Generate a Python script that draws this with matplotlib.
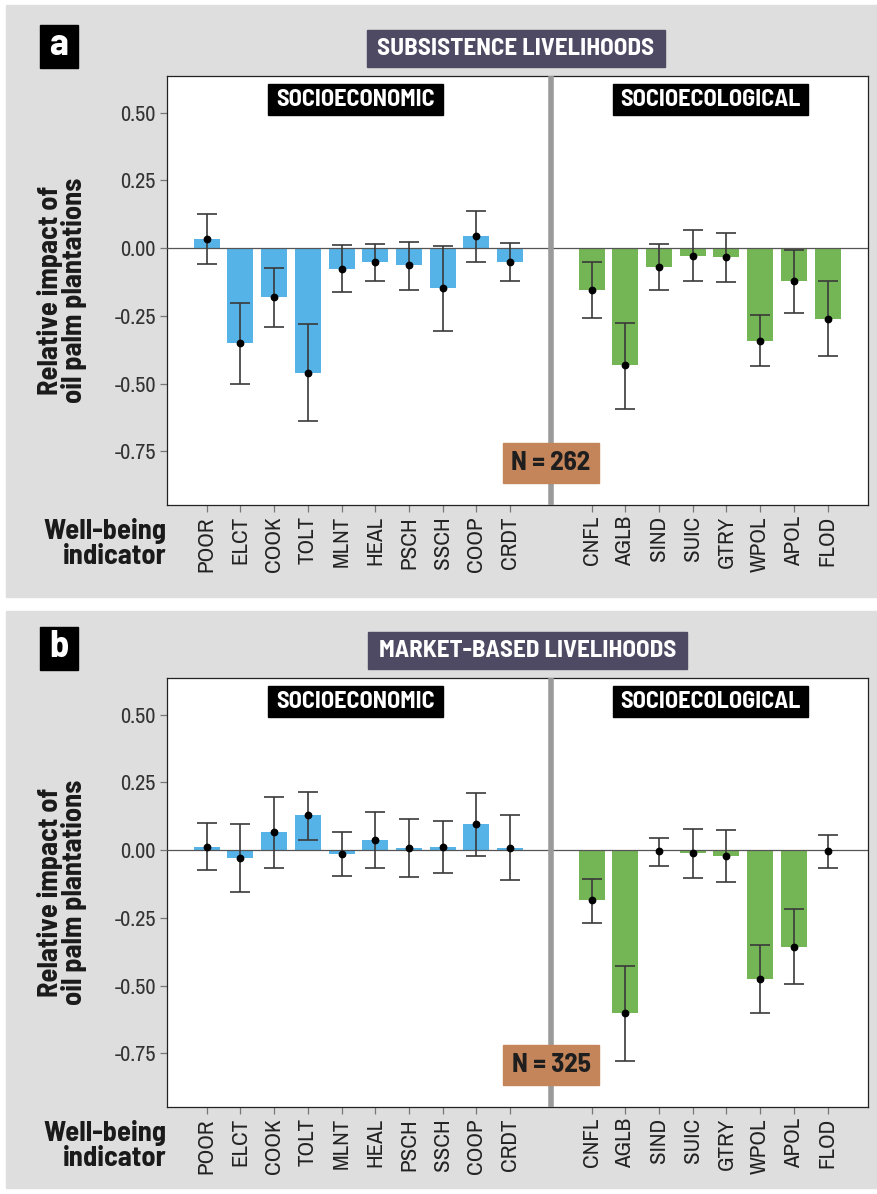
import matplotlib
matplotlib.use("Agg")
import matplotlib.pyplot as plt
from matplotlib.patches import Rectangle

plt.rcParams['axes.unicode_minus'] = False

# well-being indicators, split into the two groups
socioeconomic = ["POOR", "ELCT", "COOK", "TOLT", "MLNT", "HEAL", "PSCH", "SSCH", "COOP", "CRDT"]
socioecological = ["CNFL", "AGLB", "SIND", "SUIC", "GTRY", "WPOL", "APOL", "FLOD"]

# subsistence livelihoods: estimate, lower and upper bound
subs_mean = [0.034, -0.350, -0.182, -0.460, -0.077, -0.053, -0.064, -0.149, 0.045, -0.050,
             -0.154, -0.433, -0.069, -0.029, -0.034, -0.341, -0.123, -0.260]
subs_lo = [-0.059, -0.500, -0.293, -0.638, -0.163, -0.122, -0.154, -0.305, -0.050, -0.123,
           -0.258, -0.593, -0.154, -0.123, -0.124, -0.435, -0.241, -0.400]
subs_hi = [0.124, -0.203, -0.072, -0.279, 0.010, 0.015, 0.024, 0.009, 0.138, 0.019,
           -0.052, -0.275, 0.016, 0.068, 0.055, -0.247, -0.006, -0.123]

# market-based livelihoods
mkt_mean = [0.013, -0.029, 0.065, 0.131, -0.014, 0.037, 0.009, 0.013, 0.095, 0.009,
            -0.186, -0.602, -0.005, -0.012, -0.023, -0.477, -0.357, -0.005]
mkt_lo = [-0.074, -0.155, -0.065, 0.039, -0.095, -0.065, -0.098, -0.083, -0.020, -0.112,
          -0.270, -0.780, -0.057, -0.103, -0.119, -0.602, -0.494, -0.067]
mkt_hi = [0.101, 0.098, 0.197, 0.216, 0.065, 0.140, 0.116, 0.107, 0.211, 0.128,
          -0.106, -0.426, 0.044, 0.077, 0.073, -0.350, -0.216, 0.057]

y_ticks = [-0.75, -0.50, -0.25, 0.00, 0.25, 0.50]

W, H = 877, 1194
BLUE = "#55b3e8"
GREEN = "#74b556"
PANEL_BG = "#dedede"
HEADER_BG = "#4e4a63"
N_BG = "#c4855b"
BOLD_FONT = ["Barlow Semi Condensed", "DejaVu Sans"]
TICK_FONT = ["Archivo Narrow", "DejaVu Sans"]


def fx(x):
    return x / W


def fy(y):
    return 1 - y / H


def box(x0, y0, x1, y1, color, z=5):
    # rectangle given in pixel coordinates from the top left corner
    fig.patches.append(Rectangle((fx(x0), fy(y1)), (x1 - x0) / W, (y1 - y0) / H,
                                 transform=fig.transFigure, color=color, zorder=z))


def label(x, y, s, size, color="white", z=6, **kw):
    fig.text(fx(x), fy(y), s, ha="center", va="center", color=color, fontsize=size,
             fontweight="bold", family=BOLD_FONT, zorder=z, **kw)


x_econ = list(range(len(socioeconomic)))
x_ecol = [11.42 + i for i in range(len(socioecological))]
x_all = x_econ + x_ecol
sep_x = 10.2

fig = plt.figure(figsize=(W / 100, H / 100), dpi=100)

# grey panel backgrounds, kept behind the axes
box(6, 5, W, 597, PANEL_BG, z=-10)
box(6, 611, W, 1188, PANEL_BG, z=-10)


def draw_panel(ax_top, letter, title, title_box, n, mean, lo, hi):
    ax_bottom = ax_top + 429
    ax = fig.add_axes([fx(167), fy(ax_bottom), fx(868 - 167), 429 / H])
    ax.set_facecolor("white")

    colors = [BLUE] * len(socioeconomic) + [GREEN] * len(socioecological)
    ax.bar(x_all, mean, width=0.77, color=colors, zorder=2)
    ax.axhline(0, color="#555555", lw=0.9, zorder=3)
    yerr = [[m - l for m, l in zip(mean, lo)], [h - m for m, h in zip(mean, hi)]]
    ax.errorbar(x_all, mean, yerr=yerr, fmt="o", color="black", markersize=4.6,
                ecolor="#3a3a3a", elinewidth=1.2, capsize=7.5, capthick=1.2, zorder=4)

    ax.axvline(sep_x, color="#9a9a9a", lw=4, zorder=5)

    ax.set_xlim(-1.18, 19.62)
    ax.set_ylim(-0.948, 0.635)
    ax.set_yticks(y_ticks)
    ax.set_yticklabels(["%.2f" % t for t in y_ticks], fontsize=16, color="#333333",
                       family=TICK_FONT)
    ax.set_xticks(x_all)
    ax.set_xticklabels(socioeconomic + socioecological, rotation=90, fontsize=16.5,
                       color="#222222", family=TICK_FONT)
    ax.tick_params(axis="both", length=5, width=0.9, color="#777777", pad=3)
    for s in ax.spines.values():
        s.set_color("#222222")
        s.set_linewidth(0.9)

    # group tags inside the plot area
    box(268, ax_top + 8, 443, ax_top + 39, "black")
    label(355.5, ax_top + 24, "SOCIOECONOMIC", 17.5)
    box(613, ax_top + 8, 808, ax_top + 39, "black")
    label(710.5, ax_top + 24, "SOCIOECOLOGICAL", 17.5)

    # sample size tag on the divider
    box(503, ax_top + 367, 599, ax_top + 407, N_BG)
    label(551, ax_top + 387, "N = %d" % n, 19.5, color="#1e1e1e")

    # panel letter and title
    box(40, ax_top - 51, 78, ax_top - 8, "black")
    label(59, ax_top - 31, letter, 28)
    x0, x1 = title_box
    box(x0, ax_top - 46, x1, ax_top - 9, HEADER_BG)
    label((x0 + x1) / 2, ax_top - 27, title, 18)

    fig.text(fx(62), fy(ax_top + 214), "Relative impact of\noil palm plantations",
             rotation=90, ha="center", va="center", fontsize=20.5, fontweight="bold",
             family=BOLD_FONT, color="#1a1a1a", linespacing=0.95)
    fig.text(fx(166), fy(ax_bottom + 38), "Well-being\nindicator", ha="right",
             va="center", fontsize=20.5, fontweight="bold", family=BOLD_FONT,
             color="#1a1a1a", linespacing=1.0, multialignment="right")


draw_panel(76, "a", "SUBSISTENCE LIVELIHOODS", (367, 665), 262, subs_mean, subs_lo, subs_hi)
draw_panel(678, "b", "MARKET-BASED LIVELIHOODS", (368, 687), 325, mkt_mean, mkt_lo, mkt_hi)

fig.savefig("out.png", dpi=100, facecolor="white")
